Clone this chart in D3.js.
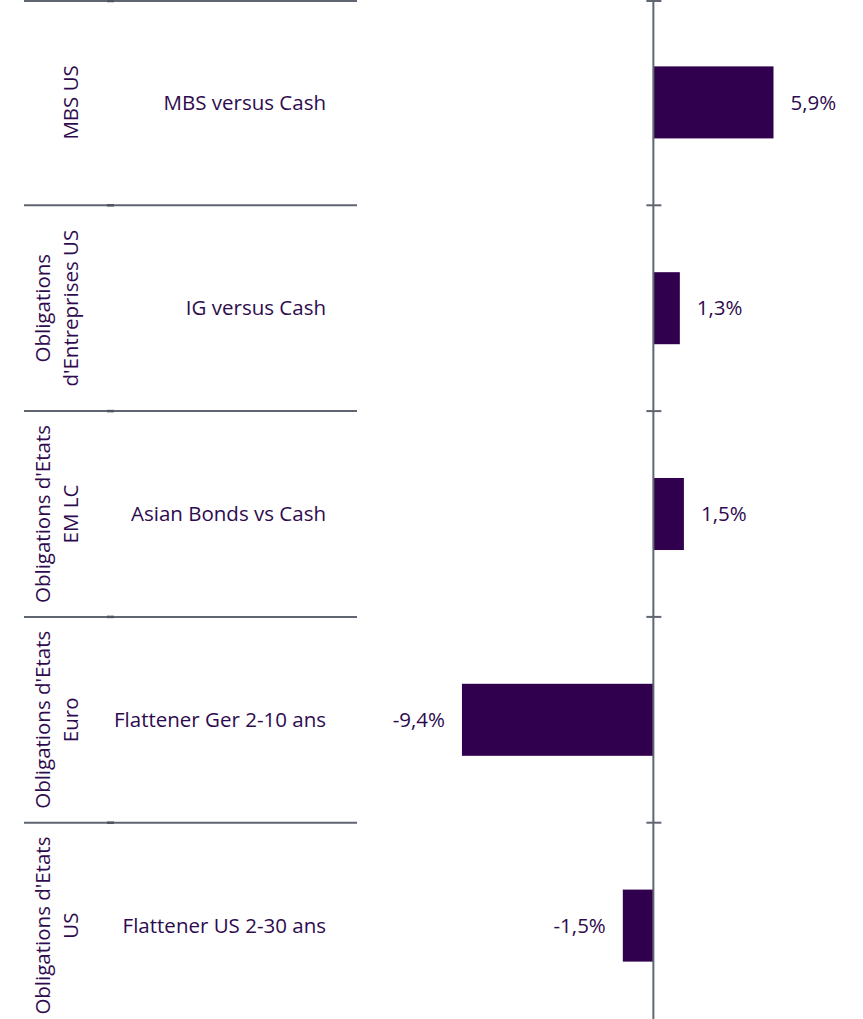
<!DOCTYPE html>
<html>
<head>
<meta charset="utf-8">
<script src="https://cdn.jsdelivr.net/npm/d3@7"></script>
<style>
  body { margin: 0; background: #fff; }
  svg { display: block; }
  text { font-family: "Open Sans", sans-serif; fill: #2e0b4e; }
</style>
</head>
<body>
<div id="chart"></div>
<script>
// data
const groupLines = [
    ["MBS US"],
    ["Obligations", "d'Entreprises US"],
    ["Obligations d'Etats", "EM LC"],
    ["Obligations d'Etats", "Euro"],
    ["Obligations d'Etats", "US"]
];
const categories = [
    "MBS versus Cash",
    "IG versus Cash",
    "Asian Bonds vs Cash",
    "Flattener Ger 2-10 ans",
    "Flattener US 2-30 ans"
];
const values = [5.9, 1.3, 1.5, -9.4, -1.5];

const width = 863, height = 1019;
const barColor = "#30004e",
    lineColor = "#5f6670";
const fontSize = "20.5px";

const svg = d3.select("#chart")
    .append("svg")
    .attr("width", width)
    .attr("height", height);

// x scale, zero sits on the vertical axis
const x = d3.scaleLinear()
    .domain([-12, 10])
    .range([409, 857]);

// the last band runs past the bottom edge, as in the original
const y = d3.scaleBand()
    .domain(categories)
    .range([-0.5, 1028.5])
    .paddingInner(0.65)
    .paddingOuter(0.325);

const step = y.step();
const y0 = y.range()[0];

// horizontal separators of the category axis
const seps = d3.range(categories.length + 1).map(i => y0 + i * step);
svg.append("g")
    .selectAll("line")
    .data(seps)
    .join("line")
    .attr("x1", 24)
    .attr("x2", 357)
    .attr("y1", d => Math.max(d, 1))
    .attr("y2", d => Math.max(d, 1))
    .attr("stroke", lineColor)
    .attr("stroke-width", 2);

// small darker marks where the outer level meets the inner one
svg.append("g")
    .selectAll("line")
    .data(seps)
    .join("line")
    .attr("x1", 107)
    .attr("x2", 114)
    .attr("y1", d => Math.max(d, 1))
    .attr("y2", d => Math.max(d, 1))
    .attr("stroke", "#4e5560")
    .attr("stroke-width", 2.5);

// bars
svg.append("g")
    .selectAll("rect")
    .data(values)
    .join("rect")
    .attr("x", d => x(Math.min(0, d)))
    .attr("width", d => Math.abs(x(d) - x(0)))
    .attr("y", (d, i) => y(categories[i]))
    .attr("height", y.bandwidth())
    .attr("fill", barColor);

// vertical axis with cross ticks
const axisX = x(0);
svg.append("line")
    .attr("x1", axisX).attr("x2", axisX)
    .attr("y1", 0).attr("y2", height)
    .attr("stroke", lineColor)
    .attr("stroke-width", 2);

svg.append("g")
    .selectAll("line")
    .data(seps)
    .join("line")
    .attr("x1", axisX - 7)
    .attr("x2", axisX + 8)
    .attr("y1", d => Math.max(d, 1))
    .attr("y2", d => Math.max(d, 1))
    .attr("stroke", lineColor)
    .attr("stroke-width", 2);

// value labels (plain hyphen as minus, comma decimal)
svg.append("g")
    .selectAll("text")
    .data(values)
    .join("text")
    .attr("x", d => d >= 0 ? x(d) + 17 : x(d) - 17)
    .attr("y", (d, i) => y(categories[i]) + y.bandwidth() / 2)
    .attr("dy", "0.35em")
    .attr("text-anchor", d => d >= 0 ? "start" : "end")
    .style("font-size", fontSize)
    .text(d => d.toFixed(1).replace(".", ",") + "%");

// inner category labels
svg.append("g")
    .selectAll("text")
    .data(categories)
    .join("text")
    .attr("x", 326)
    .attr("y", d => y(d) + y.bandwidth() / 2)
    .attr("dy", "0.35em")
    .attr("text-anchor", "end")
    .style("font-size", fontSize)
    .text(d => d);

// outer group labels, rotated
const grp = svg.append("g")
    .selectAll("text")
    .data(groupLines)
    .join("text")
    .attr("transform", (d, i) => {
        let cy = y(categories[i]) + y.bandwidth() / 2;
        return "translate(0," + cy + ") rotate(-90)";
    })
    .attr("text-anchor", "middle")
    .style("font-size", fontSize);

grp.selectAll("tspan")
    .data(d => d.map((t, k) => ({t: t, k: k, n: d.length})))
    .join("tspan")
    .attr("x", 0)
    .attr("y", d => d.n == 1 ? 78 : (d.k == 0 ? 50 : 78))
    .text(d => d.t);
</script>
</body>
</html>
